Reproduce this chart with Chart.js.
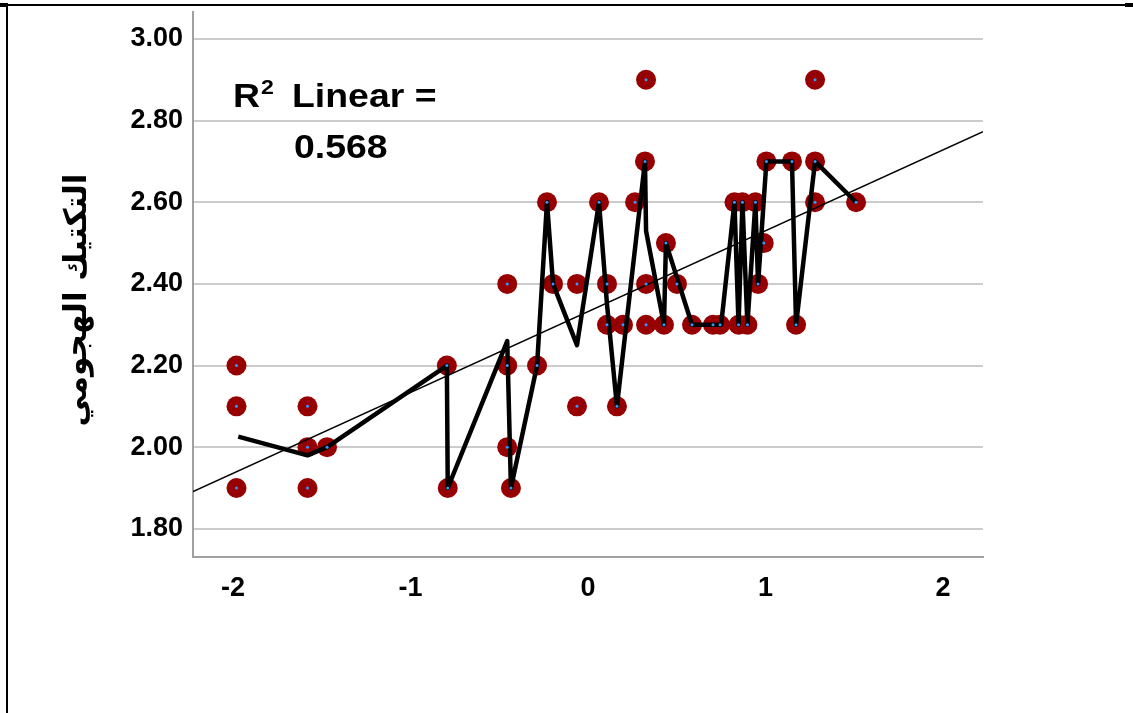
<!DOCTYPE html>
<html>
<head>
<meta charset="utf-8">
<script src="https://cdn.jsdelivr.net/npm/chart.js@4.4.1/dist/chart.umd.min.js"></script>
<style>
    html, body { margin: 0; padding: 0; background: #fff; }
    #wrap { position: relative; width: 1133px; height: 713px; }
    #frame { position: absolute; left: 6px; top: 4px; width: 1121px; height: 709px;
             border-top: 2px solid #000; border-left: 2px solid #000; pointer-events: none; }
    #tickR { position: absolute; left: 1125px; top: 3px; width: 8px; height: 4px; background: #000; }
    #tickL { position: absolute; left: 0px; top: 3px; width: 8px; height: 4px; background: #000; }
</style>
</head>
<body>
<div id="wrap">
    <canvas id="scatter"></canvas>
    <div id="frame"></div>
    <div id="tickL"></div>
    <div id="tickR"></div>
</div>
<script>
// scatter points (x = standardised score, y = attacking tactics)
const pointX = [
    -1.98, -1.98, -1.98, -1.58, -1.58, -1.58, -1.47, -0.795, -0.79,
    -0.455, -0.455, -0.455, -0.434, -0.287, -0.231, -0.197, -0.062, -0.062,
    0.062, 0.107, 0.107, 0.163, 0.197, 0.265, 0.321, 0.327, 0.327, 0.327,
    0.428, 0.439, 0.501, 0.586, 0.704, 0.744, 0.825, 0.848, 0.870, 0.898,
    0.943, 0.958, 0.99, 1.005, 1.149, 1.172, 1.279, 1.279, 1.279, 1.51
];
const pointY = [
    2.20, 2.10, 1.90, 2.10, 2.00, 1.90, 2.00, 2.20, 1.90,
    2.40, 2.20, 2.00, 1.90, 2.20, 2.60, 2.40, 2.40, 2.10,
    2.60, 2.40, 2.30, 2.10, 2.30, 2.60, 2.70, 2.90, 2.40, 2.30,
    2.30, 2.50, 2.40, 2.30, 2.30, 2.30, 2.60, 2.30, 2.60, 2.30,
    2.60, 2.40, 2.50, 2.70, 2.70, 2.30, 2.90, 2.70, 2.60, 2.60
];

// interpolation line (means at each x)
const meanX = [
    -1.97, -1.58, -1.47, -0.795, -0.79, -0.455, -0.434, -0.287, -0.231, -0.197,
    -0.062, 0.062, 0.107, 0.163, 0.321, 0.327, 0.428, 0.439, 0.586, 0.75,
    0.825, 0.848, 0.870, 0.898, 0.943, 0.958, 1.005, 1.149, 1.172, 1.279, 1.51
];
const meanY = [
    2.026, 1.98, 2.00, 2.20, 1.90, 2.26, 1.90, 2.20, 2.60, 2.40,
    2.25, 2.60, 2.35, 2.10, 2.70, 2.53, 2.30, 2.50, 2.30, 2.30,
    2.60, 2.30, 2.60, 2.30, 2.60, 2.40, 2.70, 2.70, 2.30, 2.70, 2.60
];

// linear fit
const fitIntercept = 2.332;
const fitSlope = 0.198;
const rSquared = '0.568';

const xTicks = [-2, -1, 0, 1, 2];
const yTicks = [1.80, 2.00, 2.20, 2.40, 2.60, 2.80, 3.00];
const xMin = -2.225, xMax = 2.225;
const yMin = 1.731, yMax = 3.066;
const yTitle = 'التكتيك الهجومي';

const tickFont = { family: "'Liberation Sans Narrow', 'Arial Narrow', 'Liberation Sans', sans-serif", size: 27, weight: 'bold' };

const toXY = (xs, ys) => xs.map((x, i) => ({ x, y: ys[i] }));

// R² label and rotated arabic axis title
const labelPlugin = {
    id: 'labelPlugin',
    afterDraw(chart) {
        const ctx = chart.ctx;
        const big = "bold 34px 'Liberation Sans', Arial, sans-serif";
        ctx.save();
        ctx.fillStyle = '#000';
        ctx.textBaseline = 'alphabetic';
        ctx.textAlign = 'left';
        ctx.translate(233, 107);
        ctx.scale(1.1, 1);
        ctx.font = big;
        ctx.fillText('R', 0, 0);
        const w = ctx.measureText('R').width;
        ctx.font = "bold 21px 'Liberation Sans', Arial, sans-serif";
        ctx.fillText('2', w + 1, -13);
        ctx.font = big;
        ctx.fillText('Linear =', (292 - 233) / 1.1, 0);
        ctx.fillText(rSquared, (294 - 233) / 1.1, 51);
        ctx.restore();

        ctx.save();
        ctx.translate(86, 300);
        ctx.rotate(-Math.PI / 2);
        ctx.textAlign = 'center';
        ctx.textBaseline = 'alphabetic';
        ctx.fillStyle = '#000';
        ctx.font = "bold 31px 'DejaVu Sans', sans-serif";
        ctx.fillText(yTitle, 0, 0);
        ctx.restore();
    }
};

new Chart(document.getElementById('scatter'), {
    type: 'scatter',
    data: {
        datasets: [
            {
                label: 'centres',
                data: toXY(pointX, pointY),
                pointRadius: 1.5,
                pointBackgroundColor: '#3399ff',
                pointBorderWidth: 0,
                order: 0
            },
            {
                label: 'interpolation',
                type: 'line',
                data: toXY(meanX, meanY),
                borderColor: '#000',
                borderWidth: 4.5,
                borderJoinStyle: 'round',
                pointRadius: 0,
                tension: 0,
                fill: false,
                order: 1
            },
            {
                label: 'fit',
                type: 'line',
                data: [
                    { x: xMin, y: fitIntercept + fitSlope * xMin },
                    { x: xMax, y: fitIntercept + fitSlope * xMax }
                ],
                borderColor: '#000',
                borderWidth: 1.5,
                pointRadius: 0,
                fill: false,
                order: 2
            },
            {
                label: 'points',
                data: toXY(pointX, pointY),
                pointRadius: 10,
                pointBackgroundColor: '#960000',
                pointBorderWidth: 0,
                order: 3
            }
        ]
    },
    options: {
        responsive: true,
        maintainAspectRatio: false,
        animation: false,
        layout: { padding: { left: 0, right: 150, top: 12, bottom: 0 } },
        plugins: {
            legend: { display: false },
            tooltip: { enabled: false }
        },
        scales: {
            x: {
                type: 'linear',
                min: xMin,
                max: xMax,
                afterBuildTicks: (scale) => { scale.ticks = xTicks.map(v => ({ value: v })); },
                afterFit: (scale) => {
                    scale.height = 156;
                    scale.paddingLeft = 0;
                    scale.paddingRight = 0;
                },
                grid: { display: false, drawTicks: false },
                border: { display: true, color: '#a0a0a0', width: 2 },
                ticks: {
                    color: '#000',
                    font: tickFont,
                    padding: 15,
                    maxRotation: 0,
                    autoSkip: false,
                    callback: (v) => String(v)
                }
            },
            y: {
                type: 'linear',
                min: yMin,
                max: yMax,
                afterBuildTicks: (scale) => { scale.ticks = yTicks.map(v => ({ value: v })); },
                afterFit: (scale) => {
                    scale.width = 193;
                    scale.paddingTop = 0;
                    scale.paddingBottom = 0;
                },
                grid: { color: '#cccccc', lineWidth: 2, drawTicks: false },
                border: { display: true, color: '#a0a0a0', width: 2 },
                ticks: {
                    color: '#000',
                    font: tickFont,
                    padding: 10,
                    autoSkip: false,
                    callback: (v) => Number(v).toFixed(2)
                }
            }
        }
    },
    plugins: [labelPlugin]
});
</script>
</body>
</html>
